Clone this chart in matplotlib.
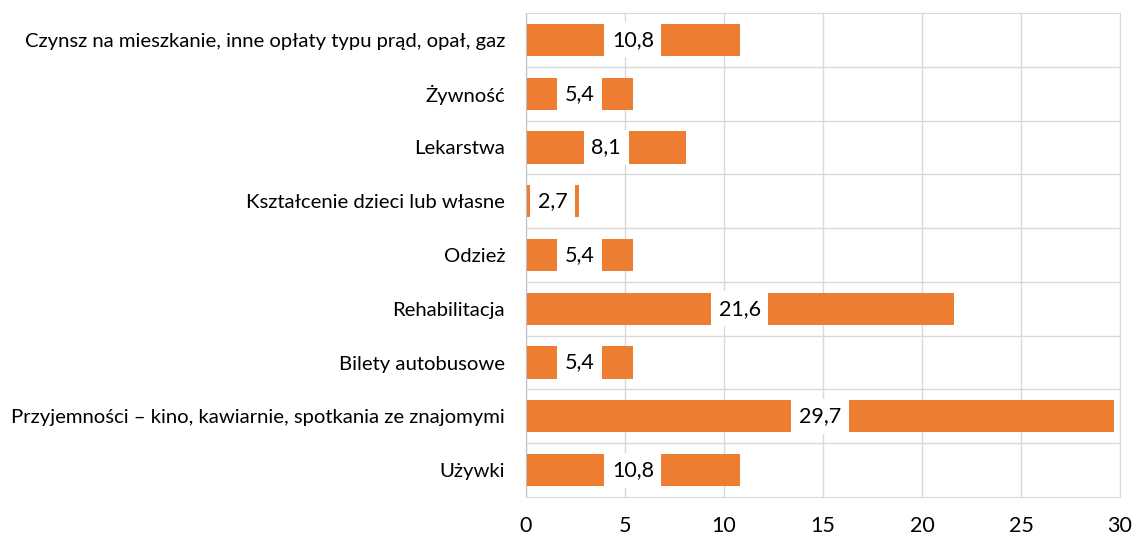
import matplotlib.pyplot as plt

categories = [
    "Czynsz na mieszkanie, inne opłaty typu prąd, opał, gaz",
    "Żywność",
    "Lekarstwa",
    "Kształcenie dzieci lub własne",
    "Odzież",
    "Rehabilitacja",
    "Bilety autobusowe",
    "Przyjemności – kino, kawiarnie, spotkania ze znajomymi",
    "Używki",
]
values = [10.8, 5.4, 8.1, 2.7, 5.4, 21.6, 5.4, 29.7, 10.8]
x_ticks = [0, 5, 10, 15, 20, 25, 30]

plt.rcParams['font.family'] = ['Lato', 'DejaVu Sans']

fig = plt.figure(figsize=(11.38, 5.38), dpi=100)
ax = fig.add_axes([0.4622, 0.0762, 0.5220, 0.8996])

grid_color = '#D9D9D9'
pos = list(range(len(categories)))
ax.barh(pos, values, height=0.6, color='#ED7D31', zorder=2)

for y, v in zip(pos, values):
    ax.text(v / 2, y, f"{v:.1f}".replace('.', ','), ha='center', va='center',
            fontsize=15.5, color='black', zorder=3,
            bbox=dict(boxstyle='square,pad=0.35', facecolor='white', edgecolor='none'))

ax.set_xlim(0, 30)
ax.set_ylim(len(categories) - 0.5, -0.5)
ax.set_xticks(x_ticks)
ax.set_xticklabels([str(t) for t in x_ticks], fontsize=15.5)
ax.set_yticks(pos)
ax.set_yticklabels(categories, fontsize=14.6)
ax.set_yticks([p + 0.5 for p in pos[:-1]], minor=True)

ax.grid(axis='x', color=grid_color, linewidth=1, zorder=0)
ax.grid(axis='y', which='minor', color=grid_color, linewidth=1, zorder=0)
ax.set_axisbelow(True)

ax.tick_params(axis='both', which='both', length=0)
ax.tick_params(axis='y', pad=15)
ax.tick_params(axis='x', pad=14)

for side in ['top', 'right', 'bottom']:
    ax.spines[side].set_color(grid_color)
ax.spines['left'].set_color('#BFBFBF')

fig.savefig("out.png", dpi=100)
